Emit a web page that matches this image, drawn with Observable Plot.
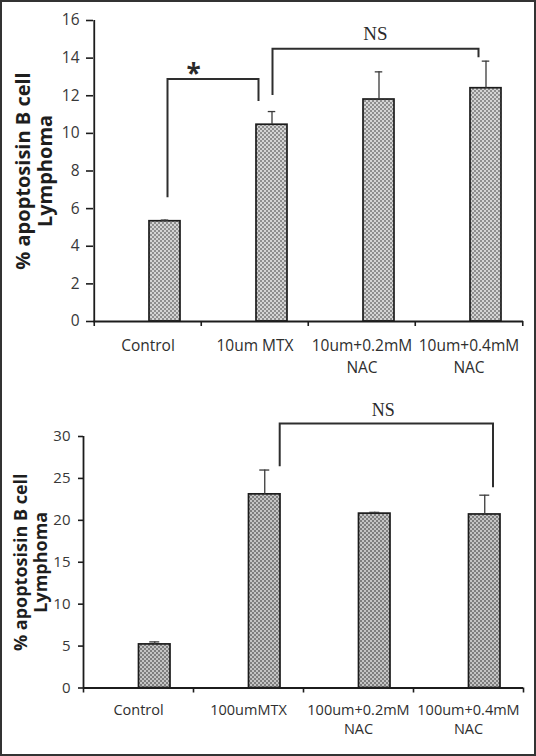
<!DOCTYPE html>
<html>
<head>
<meta charset="utf-8">
<script src="https://cdn.jsdelivr.net/npm/d3@7"></script>
<script src="https://cdn.jsdelivr.net/npm/@observablehq/plot@0.6"></script>
<style>
  html, body { margin: 0; padding: 0; background: #fff; }
  #page { position: relative; width: 536px; height: 756px; background: #fff; overflow: hidden; }
  #top { position: absolute; left: 0; top: 0; }
  #bottom { position: absolute; left: 0; top: 380px; }
  #border { position: absolute; left: 0; top: 0; width: 536px; height: 756px; box-sizing: border-box; border: 2px solid #333; pointer-events: none; }
</style>
</head>
<body>
<svg width="0" height="0" style="position:absolute">
  <defs>
    <pattern id="checkA" width="4" height="4" patternUnits="userSpaceOnUse">
      <rect width="4" height="4" fill="#d4d4d4"/>
      <rect width="2" height="2" fill="#8e8e8e"/>
      <rect x="2" y="2" width="2" height="2" fill="#8e8e8e"/>
    </pattern>
    <pattern id="checkB" width="4" height="4" patternUnits="userSpaceOnUse">
      <rect width="4" height="4" fill="#c4c4c4"/>
      <rect width="2" height="2" fill="#7e7e7e"/>
      <rect x="2" y="2" width="2" height="2" fill="#7e7e7e"/>
    </pattern>
  </defs>
</svg>
<div id="page">
  <div id="top"></div>
  <div id="bottom"></div>
  <div id="border"></div>
</div>
<script>
// ---------- data ----------
const yTitle = "% apoptosisin B cell\nLymphoma";

const topCategories = ["Control", "10um MTX", "10um+0.2mM\nNAC", "10um+0.4mM\nNAC"];
const topMeans = [5.33, 10.46, 11.80, 12.40];
const topErrors = [0.06, 0.70, 1.47, 1.44];
const topYTicks = [0, 2, 4, 6, 8, 10, 12, 14, 16];
const topBrackets = [
  {from: "Control", to: "10um MTX", yFrom: 6.58, yTo: 11.70, yTop: 12.87, label: "*"},
  {from: "10um MTX", to: "10um+0.4mM\nNAC", yFrom: 12.01, yTo: 14.02, yTop: 14.47, label: "NS"}
];

const bottomCategories = ["Control", "100umMTX", "100um+0.2mM\nNAC", "100um+0.4mM\nNAC"];
const bottomMeans = [5.2, 23.1, 20.8, 20.7];
const bottomErrors = [0.3, 2.9, 0.15, 2.3];
const bottomYTicks = [0, 5, 10, 15, 20, 25, 30];
const bottomBrackets = [
  {from: "100umMTX", to: "100um+0.4mM\nNAC", yFrom: 26.4, yTo: 23.9, yTop: 31.5, label: "NS"}
];

// ---------- helpers ----------
function bracketMark(b, st) {
  return (index, scales) => {
    const x = scales.x, y = scales.y;
    const bw = x.bandwidth();
    const xa = x(b.from) + bw / 2 + st.dxFrom;
    const xb = x(b.to) + bw / 2 + st.dxTo;
    const yt = y(b.yTop);
    const g = d3.create("svg:g");
    g.append("path")
      .attr("d", `M${xa},${y(b.yFrom)}V${yt}H${xb}V${y(b.yTo)}`)
      .attr("fill", "none")
      .attr("stroke", "#2e2e2e")
      .attr("stroke-width", 2);
    g.append("text")
      .attr("x", (xa + xb) / 2 + st.labelDx)
      .attr("y", yt - st.labelGap)
      .attr("text-anchor", "middle")
      .attr("font-family", st.labelFont)
      .attr("font-size", st.labelSize)
      .attr("font-weight", st.labelWeight)
      .attr("fill", "#2a2a2a")
      .text(b.label);
    return g.node();
  };
}

function makeChart(cfg) {
  const rows = cfg.categories.map((c, i) => ({cat: c, mean: cfg.means[i], err: cfg.errors[i]}));
  const bw = (cfg.width - cfg.marginLeft - cfg.marginRight) / cfg.categories.length;
  const barCenter = cfg.barInsetLeft + (bw - cfg.barInsetLeft - cfg.barInsetRight) / 2;
  const dxBar = barCenter - bw / 2;
  const capL = barCenter - cfg.capWidth / 2;
  const capR = bw - (barCenter + cfg.capWidth / 2);
  const last = cfg.categories[cfg.categories.length - 1];
  const yMax = cfg.yTicks[cfg.yTicks.length - 1];
  return Plot.plot({
    width: cfg.width,
    height: cfg.height,
    marginLeft: cfg.marginLeft,
    marginRight: cfg.marginRight,
    marginTop: cfg.marginTop,
    marginBottom: cfg.marginBottom,
    style: {background: "transparent", color: "#2a2a2a", fontFamily: "'Open Sans', sans-serif", overflow: "visible"},
    x: {type: "band", domain: cfg.categories, padding: 0, label: null},
    y: {domain: [0, yMax], label: null},
    marks: [
      Plot.barY(rows, {x: "cat", y: "mean", insetLeft: cfg.barInsetLeft, insetRight: cfg.barInsetRight,
        fill: cfg.fill, stroke: "#1c1c1c", strokeWidth: 1.7}),
      Plot.ruleX(rows, {x: "cat", y1: "mean", y2: d => d.mean + d.err, dx: dxBar, stroke: "#3a3a3a", strokeWidth: 1.3}),
      Plot.tickY(rows, {x: "cat", y: d => d.mean + d.err, insetLeft: capL, insetRight: capR, stroke: "#3a3a3a", strokeWidth: 1.3}),
      // axis lines
      Plot.ruleY([0], {stroke: "#1c1c1c", strokeWidth: 1.8}),
      Plot.ruleX([cfg.categories[0]], {x: d => d, y1: 0, y2: yMax, dx: -bw / 2, stroke: "#1c1c1c", strokeWidth: 1.8}),
      Plot.axisY({ticks: cfg.yTicks, tickSize: cfg.yTickSize, tickPadding: cfg.yTickPadding, fontSize: cfg.tickFont,
        stroke: "#1c1c1c", strokeWidth: 1.6, fill: "#383838", label: null}),
      // category boundary ticks
      Plot.axisX(cfg.categories, {tickSize: 5, tickFormat: () => "", dx: -bw / 2, stroke: "#1c1c1c", strokeWidth: 1.6, label: null}),
      Plot.axisX([last], {tickSize: 5, tickFormat: () => "", dx: bw / 2, stroke: "#1c1c1c", strokeWidth: 1.6, label: null}),
      // category labels
      Plot.axisX({tickSize: 0, tickPadding: cfg.xTickPadding, fontSize: cfg.xFont, lineHeight: cfg.xLineHeight, fill: "#2e2e2e", label: null}),
      // y title
      Plot.text([yTitle], {frameAnchor: "left", dx: cfg.titleX - cfg.marginLeft, rotate: -90, text: d => d,
        fontSize: cfg.titleFont, fontWeight: "bold", lineHeight: cfg.titleLineHeight, fill: "#1e1e1e", textAnchor: "middle", lineAnchor: "middle"}),
      ...cfg.brackets.map((b, i) => bracketMark(b, cfg.bracketStyles[i]))
    ]
  });
}

document.getElementById("top").appendChild(makeChart({
  categories: topCategories, means: topMeans, errors: topErrors, yTicks: topYTicks, brackets: topBrackets,
  width: 536, height: 380, marginLeft: 93, marginRight: 13, marginTop: 20, marginBottom: 59,
  barInsetLeft: 55, barInsetRight: 21, capWidth: 8, fill: "url(#checkA)",
  yTickSize: 7, yTickPadding: 7, tickFont: 15.5, xTickPadding: 14, xFont: 15.5, xLineHeight: 1.42,
  titleX: 33.3, titleFont: 20, titleLineHeight: 1.11,
  bracketStyles: [
    {dxFrom: 20, dxTo: 4, labelDx: -19.5, labelGap: -4, labelFont: "'Open Sans', sans-serif", labelSize: 26, labelWeight: "bold"},
    {dxFrom: 18, dxTo: 10, labelDx: 0, labelGap: 9, labelFont: "'Liberation Serif', serif", labelSize: 19, labelWeight: "normal"}
  ]
}));

document.getElementById("bottom").appendChild(makeChart({
  categories: bottomCategories, means: bottomMeans, errors: bottomErrors, yTicks: bottomYTicks, brackets: bottomBrackets,
  width: 536, height: 376, marginLeft: 83, marginRight: 13, marginTop: 56, marginBottom: 68.5,
  barInsetLeft: 55.5, barInsetRight: 23, capWidth: 10, fill: "url(#checkB)",
  yTickSize: 5, yTickPadding: 8, tickFont: 15, xTickPadding: 13, xFont: 14.5, xLineHeight: 1.33,
  titleX: 30.4, titleFont: 18, titleLineHeight: 1.1,
  bracketStyles: [
    {dxFrom: 31.7, dxTo: 25, labelDx: -3, labelGap: 7.5, labelFont: "'Liberation Serif', serif", labelSize: 18, labelWeight: "normal"}
  ]
}));
</script>
</body>
</html>
